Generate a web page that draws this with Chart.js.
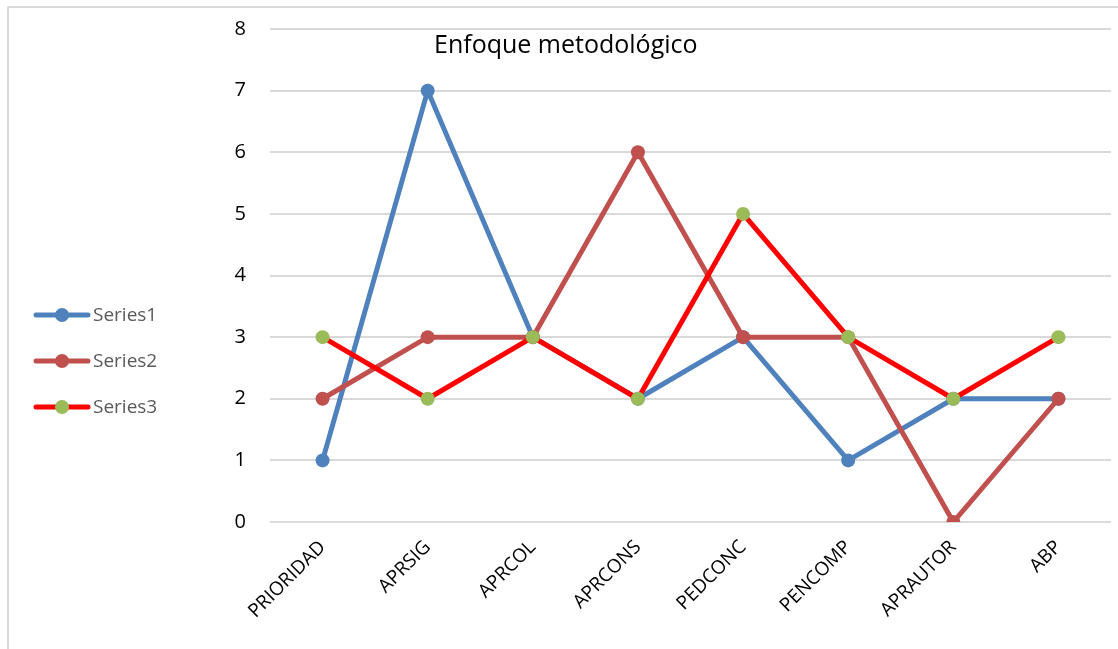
<!DOCTYPE html>
<html>
<head>
<meta charset="utf-8">
<script src="https://cdn.jsdelivr.net/npm/chart.js@4"></script>
<style>
  html, body { margin: 0; padding: 0; background: #fff; }
  #wrap { position: relative; width: 1118px; height: 649px; overflow: hidden; }
  #frame { position: absolute; left: 7px; top: 6px; width: 1200px; height: 700px;
           border: 2px solid #d9d9d9; box-sizing: border-box; }
  /* canvas pulled up a little so the plot top lands on the 8 line of the original */
  #c { position: absolute; left: 0; top: -7px; }
</style>
</head>
<body>
<div id="wrap">
  <div id="frame"></div>
  <canvas id="c" width="1118" height="656"></canvas>
</div>
<script>
// data
const categories = ['PRIORIDAD', 'APRSIG', 'APRCOL', 'APRCONS', 'PEDCONC', 'PENCOMP', 'APRAUTOR', 'ABP'];
const series1 = [1, 7, 3, 2, 3, 1, 2, 2];
const series2 = [2, 3, 3, 6, 3, 3, 0, 2];
const series3 = [3, 2, 3, 2, 5, 3, 2, 3];
const yTicks = [0, 1, 2, 3, 4, 5, 6, 7, 8];
const chartTitle = 'Enfoque metodológico';

const FONT = '"Open Sans", "DejaVu Sans", sans-serif';
const SHIFT = 7; // canvas offset

const seriesStyle = [
    { label: 'Series1', data: series1, line: '#4f81bd', dot: '#4f81bd', width: 5 },
    { label: 'Series2', data: series2, line: '#c0504d', dot: '#c0504d', width: 5 },
    { label: 'Series3', data: series3, line: '#ff0000', dot: '#9bbb59', width: 5 }
];

// legend on the left, drawn by hand to get the line + marker look
const sideLegend = {
    id: 'sideLegend',
    afterDraw(chart) {
        const ctx = chart.ctx;
        ctx.save();
        seriesStyle.forEach((s, i) => {
            const y = 315 + i * 46 + SHIFT;
            ctx.strokeStyle = s.line;
            ctx.lineWidth = 5;
            ctx.lineCap = 'round';
            ctx.beginPath();
            ctx.moveTo(36, y);
            ctx.lineTo(88, y);
            ctx.stroke();
            ctx.fillStyle = s.dot;
            ctx.beginPath();
            ctx.arc(62, y, 7, 0, Math.PI * 2);
            ctx.fill();
            ctx.fillStyle = '#595959';
            ctx.font = '19px ' + FONT;
            ctx.textBaseline = 'middle';
            ctx.fillText(s.label, 93, y + 1);
        });
        // title sits inside the plot area
        ctx.fillStyle = '#000';
        ctx.font = '25px ' + FONT;
        ctx.textAlign = 'left';
        ctx.textBaseline = 'middle';
        ctx.fillText(chartTitle, 434, 46 + SHIFT);
        ctx.restore();
    }
};

const ctx = document.getElementById('c').getContext('2d');
const chart = new Chart(ctx, {
    type: 'line',
    data: {
        labels: categories,
        datasets: seriesStyle.map((s, i) => ({
            label: s.label,
            data: s.data,
            borderColor: s.line,
            backgroundColor: s.dot,
            pointBackgroundColor: s.dot,
            pointBorderColor: s.dot,
            pointRadius: 7,
            pointBorderWidth: 0,
            borderWidth: s.width,
            tension: 0,
            order: 3 - i
        }))
    },
    options: {
        responsive: false,
        animation: false,
        layout: { padding: { left: 0, right: 6, top: 17, bottom: 0 } },
        plugins: {
            legend: { display: false },
            title: { display: false },
            tooltip: { enabled: false }
        },
        scales: {
            x: {
                offset: true,
                grid: { display: false, drawTicks: false },
                border: { display: false },
                ticks: {
                    color: '#000',
                    font: { family: FONT, size: 19 },
                    maxRotation: 45,
                    minRotation: 45,
                    padding: 14
                },
                afterFit(scale) { scale.height = 127; }
            },
            y: {
                min: 0,
                max: 8,
                afterBuildTicks(scale) { scale.ticks = yTicks.map(v => ({ value: v })); },
                grid: { color: '#d9d9d9', lineWidth: 2, drawTicks: false },
                border: { display: false },
                ticks: {
                    color: '#000',
                    font: { family: FONT, size: 20 },
                    padding: 24
                },
                afterFit(scale) { scale.width = 270; }
            }
        }
    },
    plugins: [sideLegend]
});
</script>
</body>
</html>
